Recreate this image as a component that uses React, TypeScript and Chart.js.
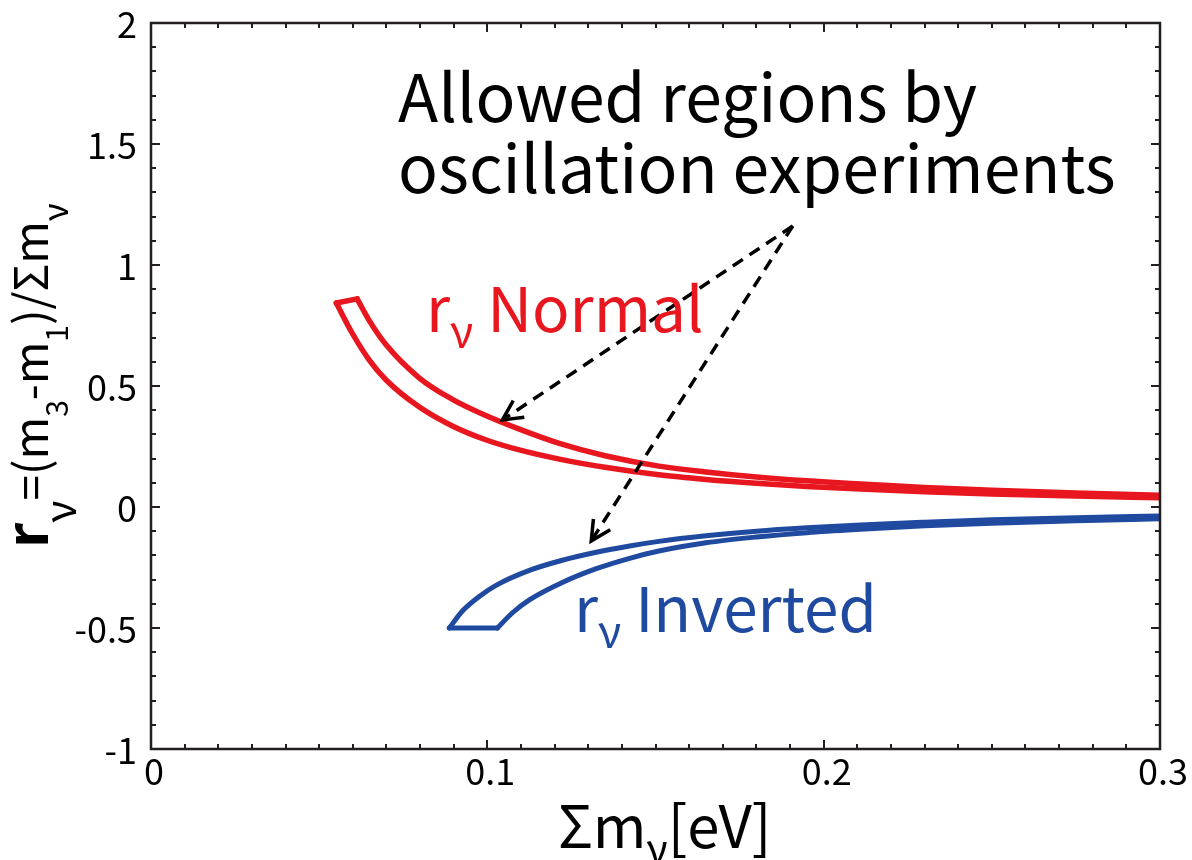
import { useEffect, useRef } from "react";
import { Chart, registerables } from "chart.js";

Chart.register(...registerables);

// Normal hierarchy band: lower and upper boundary curves (Σm [eV], r)
const normalLowerX = [0.0551, 0.0598, 0.0649, 0.0699, 0.0798, 0.0896, 0.0997, 0.1095, 0.1214, 0.135, 0.151, 0.165, 0.18, 0.195, 0.211, 0.23, 0.25, 0.275, 0.3];
const normalLowerY = [0.843, 0.719, 0.607, 0.525, 0.413, 0.335, 0.277, 0.236, 0.198, 0.164, 0.133, 0.114, 0.098, 0.085, 0.074, 0.063, 0.054, 0.045, 0.038];
const normalUpperX = [0.0613, 0.0649, 0.0699, 0.0798, 0.0896, 0.0997, 0.1095, 0.1214, 0.135, 0.151, 0.165, 0.18, 0.195, 0.211, 0.23, 0.25, 0.275, 0.3];
const normalUpperY = [0.86, 0.77, 0.67, 0.533, 0.445, 0.377, 0.322, 0.263, 0.212, 0.169, 0.145, 0.124, 0.108, 0.095, 0.081, 0.069, 0.058, 0.049];

// Inverted hierarchy band: upper and lower boundary curves
const invertedUpperX = [0.0887, 0.0926, 0.0976, 0.1027, 0.1125, 0.1223, 0.1324, 0.1423, 0.151, 0.165, 0.18, 0.195, 0.211, 0.23, 0.25, 0.275, 0.3];
const invertedUpperY = [-0.5, -0.43, -0.37, -0.323, -0.262, -0.22, -0.187, -0.161, -0.142, -0.119, -0.1, -0.086, -0.074, -0.063, -0.053, -0.044, -0.037];
const invertedLowerX = [0.103, 0.1074, 0.1125, 0.1223, 0.1324, 0.1423, 0.151, 0.165, 0.18, 0.195, 0.211, 0.23, 0.25, 0.275, 0.3];
const invertedLowerY = [-0.5, -0.438, -0.384, -0.312, -0.255, -0.212, -0.182, -0.148, -0.124, -0.106, -0.092, -0.078, -0.067, -0.057, -0.049];

// End caps closing each band
const normalCapX = [0.0551, 0.0613];
const normalCapY = [0.843, 0.86];
const invertedCapX = [0.0887, 0.103];
const invertedCapY = [-0.5, -0.5];

// Axis tick labels
const xTickLabels = ["0", "0.1", "0.2", "0.3"];
const yTickLabels = ["2", "1.5", "1", "0.5", "0", "-0.5", "-1"];

// Dashed arrows: tail and tip, in data units
const arrowTailX = [0.1908, 0.1908];
const arrowTailY = [1.161, 1.161];
const arrowTipX = [0.1045, 0.1309];
const arrowTipY = [0.36, -0.14];

const RED = "#e8161e";
const BLUE = "#1f4a9f";
const INK = "#231f20";
const FONT = "'Noto Sans CJK JP', 'Noto Sans', sans-serif";

const pts = (xs: number[], ys: number[]) => xs.map((x, i) => ({ x, y: ys[i] }));

type Part = { t: string; size: number; dy?: number; bold?: boolean };

function drawRich(ctx: CanvasRenderingContext2D, x: number, y: number, parts: Part[], color: string) {
  ctx.fillStyle = color;
  ctx.textAlign = "left";
  ctx.textBaseline = "alphabetic";
  let cx = x;
  for (const p of parts) {
    ctx.font = `${p.bold ? "bold " : ""}${p.size}px ${FONT}`;
    ctx.fillText(p.t, cx, y + (p.dy ?? 0));
    cx += ctx.measureText(p.t).width;
  }
}

const framePlugin = {
  id: "frameAndText",
  afterDraw(chart: any) {
    const ctx: CanvasRenderingContext2D = chart.ctx;
    const { left, right, top, bottom } = chart.chartArea;
    const xs = chart.scales.x;
    const ys = chart.scales.y;
    ctx.save();

    // inward ticks on all four sides
    ctx.strokeStyle = INK;
    ctx.lineWidth = 2;
    ctx.beginPath();
    for (let i = 1; i < 30; i++) {
      const px = Math.round(xs.getPixelForValue(i * 0.01));
      const len = i % 10 === 0 ? 9 : 5;
      ctx.moveTo(px, bottom);
      ctx.lineTo(px, bottom - len);
      ctx.moveTo(px, top);
      ctx.lineTo(px, top + len);
    }
    for (let i = 1; i < 30; i++) {
      const py = Math.round(ys.getPixelForValue(-1 + i * 0.1));
      const len = i % 5 === 0 ? 9 : 5;
      ctx.moveTo(left, py);
      ctx.lineTo(left + len, py);
      ctx.moveTo(right, py);
      ctx.lineTo(right - len, py);
    }
    ctx.stroke();

    // frame
    ctx.lineWidth = 2.5;
    ctx.strokeRect(left, top, right - left, bottom - top);

    // tick labels
    ctx.fillStyle = "#000";
    ctx.font = `36px ${FONT}`;
    ctx.textAlign = "right";
    ctx.textBaseline = "middle";
    for (const lab of yTickLabels) {
      ctx.fillText(lab, left - 14, ys.getPixelForValue(parseFloat(lab)) + 1);
    }
    ctx.textAlign = "center";
    ctx.textBaseline = "top";
    for (const lab of xTickLabels) {
      ctx.fillText(lab, xs.getPixelForValue(parseFloat(lab)) + 3, bottom + 4);
    }

    // x-axis title
    drawRich(ctx, 558, 848, [
      { t: "Σm", size: 58 },
      { t: "ν", size: 40, dy: 16 },
      { t: "[eV]", size: 58 },
    ], "#000");

    // y-axis title, rotated
    ctx.save();
    ctx.translate(48, 548);
    ctx.rotate(-Math.PI / 2);
    drawRich(ctx, 0, 0, [
      { t: "r", size: 58, bold: true },
      { t: "ν", size: 42, dy: 28 },
      { t: "=(m", size: 46 },
      { t: "3", size: 30, dy: 20 },
      { t: "-m", size: 46 },
      { t: "1", size: 30, dy: 20 },
      { t: ")/Σm", size: 46 },
      { t: "ν", size: 34, dy: 20 },
    ], "#000");
    ctx.restore();

    // dashed arrows
    ctx.strokeStyle = "#000";
    ctx.lineWidth = 3.5;
    for (let k = 0; k < arrowTipX.length; k++) {
      const x0 = xs.getPixelForValue(arrowTailX[k]);
      const y0 = ys.getPixelForValue(arrowTailY[k]);
      const x1 = xs.getPixelForValue(arrowTipX[k]);
      const y1 = ys.getPixelForValue(arrowTipY[k]);
      ctx.setLineDash([12, 8]);
      ctx.beginPath();
      ctx.moveTo(x0, y0);
      ctx.lineTo(x1, y1);
      ctx.stroke();
      ctx.setLineDash([]);
      const ang = Math.atan2(y0 - y1, x0 - x1);
      const spread = (27 * Math.PI) / 180;
      const L = 22;
      ctx.beginPath();
      ctx.moveTo(x1 + L * Math.cos(ang - spread), y1 + L * Math.sin(ang - spread));
      ctx.lineTo(x1, y1);
      ctx.lineTo(x1 + L * Math.cos(ang + spread), y1 + L * Math.sin(ang + spread));
      ctx.stroke();
    }

    // annotations
    ctx.fillStyle = "#000";
    ctx.font = `66px ${FONT}`;
    ctx.textAlign = "left";
    ctx.textBaseline = "alphabetic";
    ctx.fillText("Allowed regions by", 398, 122);
    ctx.fillText("oscillation experiments", 398, 193);

    drawRich(ctx, 426, 332, [
      { t: "r", size: 62 },
      { t: "ν", size: 44, dy: 16 },
      { t: " Normal", size: 62 },
    ], RED);
    drawRich(ctx, 574, 632, [
      { t: "r", size: 62 },
      { t: "ν", size: 44, dy: 16 },
      { t: " Inverted", size: 62 },
    ], BLUE);

    ctx.restore();
  },
};

function curve(xs: number[], ys: number[], color: string, width: number, smooth: boolean) {
  return {
    data: pts(xs, ys),
    showLine: true,
    borderColor: color,
    borderWidth: width,
    pointRadius: 0,
    fill: false,
    clip: 0,
    borderCapStyle: "round" as const,
    borderJoinStyle: "round" as const,
    cubicInterpolationMode: smooth ? ("monotone" as const) : ("default" as const),
    tension: 0,
  };
}

export default function App() {
  const ref = useRef<HTMLCanvasElement | null>(null);

  useEffect(() => {
    if (!ref.current) return;
    const chart = new Chart(ref.current, {
      type: "scatter",
      data: {
        datasets: [
          curve(normalLowerX, normalLowerY, RED, 5.5, true),
          curve(normalUpperX, normalUpperY, RED, 5.5, true),
          curve(normalCapX, normalCapY, RED, 5.5, false),
          curve(invertedUpperX, invertedUpperY, BLUE, 5, true),
          curve(invertedLowerX, invertedLowerY, BLUE, 5, true),
          curve(invertedCapX, invertedCapY, BLUE, 5, false),
        ] as any,
      },
      options: {
        responsive: false,
        animation: false,
        layout: { padding: { left: 151, right: 32, top: 23, bottom: 111 } },
        scales: {
          x: { type: "linear", min: 0, max: 0.3, display: false },
          y: { type: "linear", min: -1, max: 2, display: false },
        },
        plugins: { legend: { display: false }, tooltip: { enabled: false } },
        events: [],
      },
      plugins: [framePlugin],
    });
    return () => chart.destroy();
  }, []);

  return (
    <div style={{ position: "absolute", left: 0, top: 0, width: 1192, height: 860, background: "#fff" }}>
      <canvas ref={ref} width={1192} height={860} style={{ display: "block" }} />
    </div>
  );
}
